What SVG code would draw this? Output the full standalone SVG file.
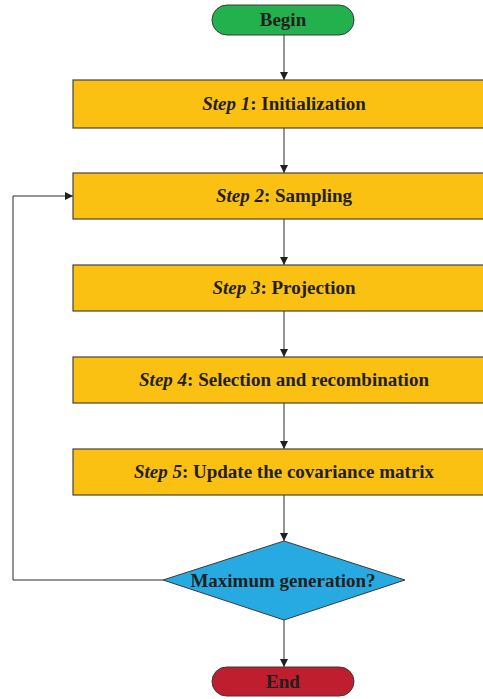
<svg xmlns="http://www.w3.org/2000/svg" width="483" height="699" viewBox="0 0 483 699">
  <style>
    .term { stroke: #3a3a3a; stroke-width: 1; }
    .step { fill: #fbc112; stroke: #4a4236; stroke-width: 1.2; }
    .lbl { font-family: "Liberation Serif", "Times New Roman", serif; font-weight: bold; font-size: 19px; fill: #231f20; text-anchor: middle; }
    .it { font-style: italic; }
    .wire { fill: none; stroke: #2a2a2a; stroke-width: 1; }
  </style>
  <defs>
    <marker id="arr" viewBox="0 0 10 10" refX="10" refY="5" markerWidth="8" markerHeight="8" markerUnits="userSpaceOnUse" orient="auto">
      <path d="M0,0 L10,5 L0,10 z" fill="#231f20"/>
    </marker>
  </defs>

  <g id="connectors">
    <line class="wire" x1="284" y1="35" x2="284" y2="80" marker-end="url(#arr)"/>
    <line class="wire" x1="284" y1="128" x2="284" y2="173" marker-end="url(#arr)"/>
    <line class="wire" x1="284" y1="219" x2="284" y2="265" marker-end="url(#arr)"/>
    <line class="wire" x1="284" y1="311" x2="284" y2="357" marker-end="url(#arr)"/>
    <line class="wire" x1="284" y1="403" x2="284" y2="449" marker-end="url(#arr)"/>
    <line class="wire" x1="284" y1="495" x2="284" y2="541" marker-end="url(#arr)"/>
    <line class="wire" x1="284" y1="620" x2="284" y2="667" marker-end="url(#arr)"/>
    <polyline class="wire" points="163,580 13,580 13,196 73,196" marker-end="url(#arr)"/>
  </g>

  <g id="begin">
    <rect class="term" x="212" y="5" width="142" height="30" rx="15" fill="#22b14c"/>
    <text class="lbl" x="283" y="26">Begin</text>
  </g>

  <g id="step1">
    <rect class="step" x="73" y="80" width="422" height="48"/>
    <text class="lbl" x="284" y="110"><tspan class="it">Step 1</tspan>: Initialization</text>
  </g>

  <g id="step2">
    <rect class="step" x="73" y="173" width="422" height="46"/>
    <text class="lbl" x="284" y="202"><tspan class="it">Step 2</tspan>: Sampling</text>
  </g>

  <g id="step3">
    <rect class="step" x="73" y="265" width="422" height="46"/>
    <text class="lbl" x="284" y="294"><tspan class="it">Step 3</tspan>: Projection</text>
  </g>

  <g id="step4">
    <rect class="step" x="73" y="357" width="422" height="46"/>
    <text class="lbl" x="284" y="386"><tspan class="it">Step 4</tspan>: Selection and recombination</text>
  </g>

  <g id="step5">
    <rect class="step" x="73" y="449" width="422" height="46"/>
    <text class="lbl" x="284" y="478"><tspan class="it">Step 5</tspan>: Update the covariance matrix</text>
  </g>

  <g id="decision">
    <polygon class="term" points="284,541 405,580 284,620 163,580" fill="#27aae1"/>
    <text class="lbl" x="283" y="587">Maximum generation?</text>
  </g>

  <g id="end">
    <rect class="term" x="212" y="667" width="142" height="29" rx="14.5" fill="#be1e2d"/>
    <text class="lbl" x="283" y="688">End</text>
  </g>
</svg>
